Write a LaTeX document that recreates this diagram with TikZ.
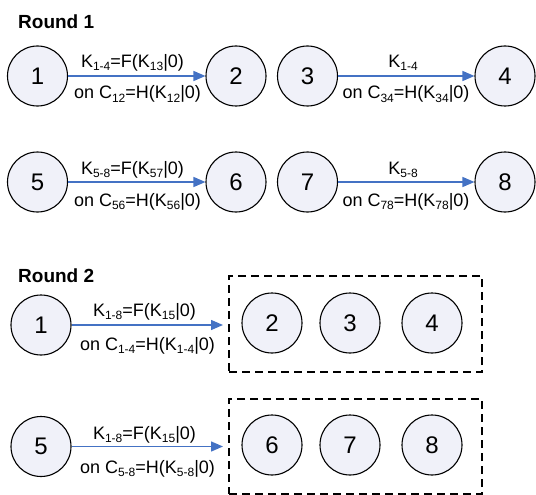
\documentclass[tikz,border=0pt]{standalone}
\usepackage{fontspec}
\setmainfont{Liberation Sans}
\usetikzlibrary{arrows.meta}
\definecolor{nodefill}{HTML}{F0F1F9}
\definecolor{linkblue}{HTML}{4472C4}
% lowered, smaller index text
\newcommand\ix[1]{\raisebox{-0.35ex}{\fontsize{12}{12}\selectfont #1}}
\begin{document}
\begin{tikzpicture}[x=1pt,y=-1pt,
  party/.style={circle,draw=black,line width=1.1pt,fill=nodefill,
    minimum size=60pt,inner sep=0pt,font=\fontsize{24}{24}\selectfont},
  link/.style={draw=linkblue,line width=1.4pt,-{Triangle[length=12pt,width=10pt]}},
  lbl/.style={anchor=base,inner sep=0pt,font=\fontsize{18}{18}\selectfont},
  title/.style={anchor=base west,inner sep=0pt,font=\fontsize{19}{19}\selectfont\bfseries},
  group/.style={draw=black,line width=1.4pt,dash pattern=on 8pt off 5pt,
    minimum width=253pt,inner sep=0pt}]
\useasboundingbox (0,0) rectangle (536,495);

% ---------- Round 1 ----------
\node[title] (t1) at (18,29) {Round 1};

\node[party] (a1) at (37.5,76) {1};
\node[party] (a2) at (236,76) {2};
\node[party] (a3) at (307.5,76) {3};
\node[party] (a4) at (505,76) {4};
\draw[link] (a1) -- (a2);
\draw[link] (a3) -- (a4);
\node[lbl] (l12a) at (132.5,67) {K\ix{1-4}=F(K\ix{13}|0)};
\node[lbl] (l12b) at (137.5,99) {on C\ix{12}=H(K\ix{12}|0)};
\node[lbl] (l34a) at (403,67) {K\ix{1-4}};
\node[lbl] (l34b) at (406,99) {on C\ix{34}=H(K\ix{34}|0)};

\node[party] (b5) at (37.5,182) {5};
\node[party] (b6) at (236,182) {6};
\node[party] (b7) at (307.5,182) {7};
\node[party] (b8) at (505,182) {8};
\draw[link] (b5) -- (b6);
\draw[link] (b7) -- (b8);
\node[lbl] (l56a) at (132.5,174) {K\ix{5-8}=F(K\ix{57}|0)};
\node[lbl] (l56b) at (137.5,206) {on C\ix{56}=H(K\ix{56}|0)};
\node[lbl] (l78a) at (403,174) {K\ix{5-8}};
\node[lbl] (l78b) at (406,206) {on C\ix{78}=H(K\ix{78}|0)};

% ---------- Round 2 ----------
\node[title] (t2) at (18,282) {Round 2};

\node[party] (c1) at (41,325) {1};
\node[group,minimum height=96pt] (g1) at (355.5,324) {};
\node[party] (c2) at (272,323) {2};
\node[party] (c3) at (350,323) {3};
\node[party] (c4) at (432,323) {4};
\coordinate (tip1) at (223,325);
\draw[link] (c1) -- (tip1);
\node[lbl] (m1a) at (144.5,316) {K\ix{1-8}=F(K\ix{15}|0)};
\node[lbl] (m1b) at (147.5,350) {on C\ix{1-4}=H(K\ix{1-4}|0)};

\node[party] (d5) at (41,446.5) {5};
\node[group,minimum height=95pt] (g2) at (355.5,446.5) {};
\node[party] (d6) at (272,445) {6};
\node[party] (d7) at (350,445) {7};
\node[party] (d8) at (432,445) {8};
\coordinate (tip2) at (223,446.5);
\draw[link] (d5) -- (tip2);
\node[lbl] (m2a) at (144.5,439) {K\ix{1-8}=F(K\ix{15}|0)};
\node[lbl] (m2b) at (147.5,473) {on C\ix{5-8}=H(K\ix{5-8}|0)};
\end{tikzpicture}
\end{document}
